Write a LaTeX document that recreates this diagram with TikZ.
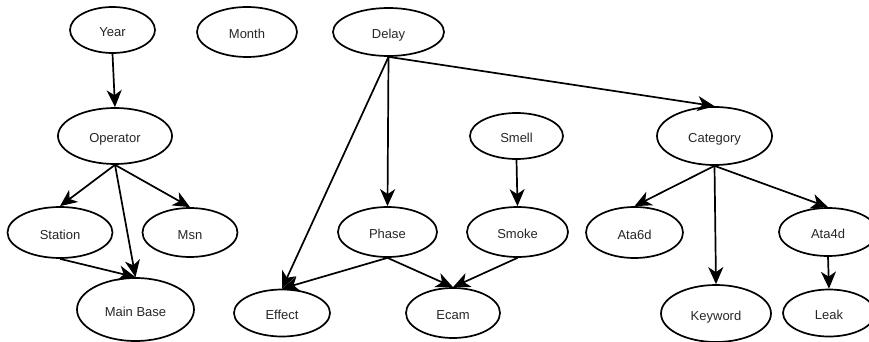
\documentclass[tikz,border=0pt]{standalone}
\usepackage{fontspec}
\setmainfont{Liberation Sans}
\usetikzlibrary{shapes.geometric,arrows.meta}

\begin{document}
\begin{tikzpicture}[x=1pt,y=-1pt,
var/.style={ellipse, draw=black, line width=1.7pt, inner sep=0pt, text=black!85,
    text height=13pt, text depth=0pt, font=\fontsize{13}{15}\selectfont},
dims/.style 2 args={minimum width=#1pt, minimum height=#2pt}, %Use to alter the size of each ellipse
link/.style={line width=1.7pt, -{Stealth[length=17pt,width=15pt,inset=5pt]}}]

\useasboundingbox (0,0) rectangle (869,342);

% Top row
\node[var, dims={85}{46}] (year) at (112.5,30) {Year};
\node[var, dims={100}{50}] (month) at (247,32) {Month};
\node[var, dims={111}{48}] (delay) at (388.5,32) {Delay};

% Second row
\node[var, dims={114}{56}] (operator) at (115,136) {Operator};
\node[var, dims={93}{46}] (smell) at (516.5,136) {Smell};
\node[var, dims={115}{58}] (category) at (714.5,136) {Category};

% Third row
\node[var, dims={105}{51}] (station) at (60,232.5) {Station};
\node[var, dims={95}{49}] (msn) at (190,232.5) {Msn};
\node[var, dims={99}{50}] (phase) at (387.5,232) {Phase};
\node[var, dims={101}{50}] (smoke) at (517.5,232) {Smoke};
\node[var, dims={97}{51}] (ata6d) at (634.5,232.5) {Ata6d};
\node[var, dims={98}{48}] (ata4d) at (828,232) {Ata4d};

% Bottom row
\node[var, dims={117}{63}] (mainbase) at (135.5,309.5) {Main Base};
\node[var, dims={96}{47}] (effect) at (282,313) {Effect};
\node[var, dims={94}{50}] (ecam) at (453,313) {Ecam};
\node[var, dims={110}{57}] (keyword) at (716,313.5) {Keyword};
\node[var, dims={92}{47}] (leak) at (829,313) {Leak};

% Edges
\draw[link] (year.south) -- (operator.north);
\draw[link] (operator.south) -- (station.north);
\draw[link] (operator.south) -- (msn.north);
\draw[link] (operator.south) -- (mainbase.north);
\draw[link] (station.south) -- (mainbase.north);
\draw[link] (delay.south) -- (effect.north);
\draw[link] (delay.south) -- (phase.north);
\draw[link] (delay.south) -- (category.north);
\draw[link] (smell.south) -- (smoke.north);
\draw[link] (phase.south) -- (effect.north);
\draw[link] (phase.south) -- (ecam.north);
\draw[link] (smoke.south) -- (ecam.north);
\draw[link] (category.south) -- (ata6d.north);
\draw[link] (category.south) -- (keyword.north);
\draw[link] (category.south) -- (ata4d.north);
\draw[link] (ata4d.south) -- (leak.north);
\end{tikzpicture}
\end{document}
